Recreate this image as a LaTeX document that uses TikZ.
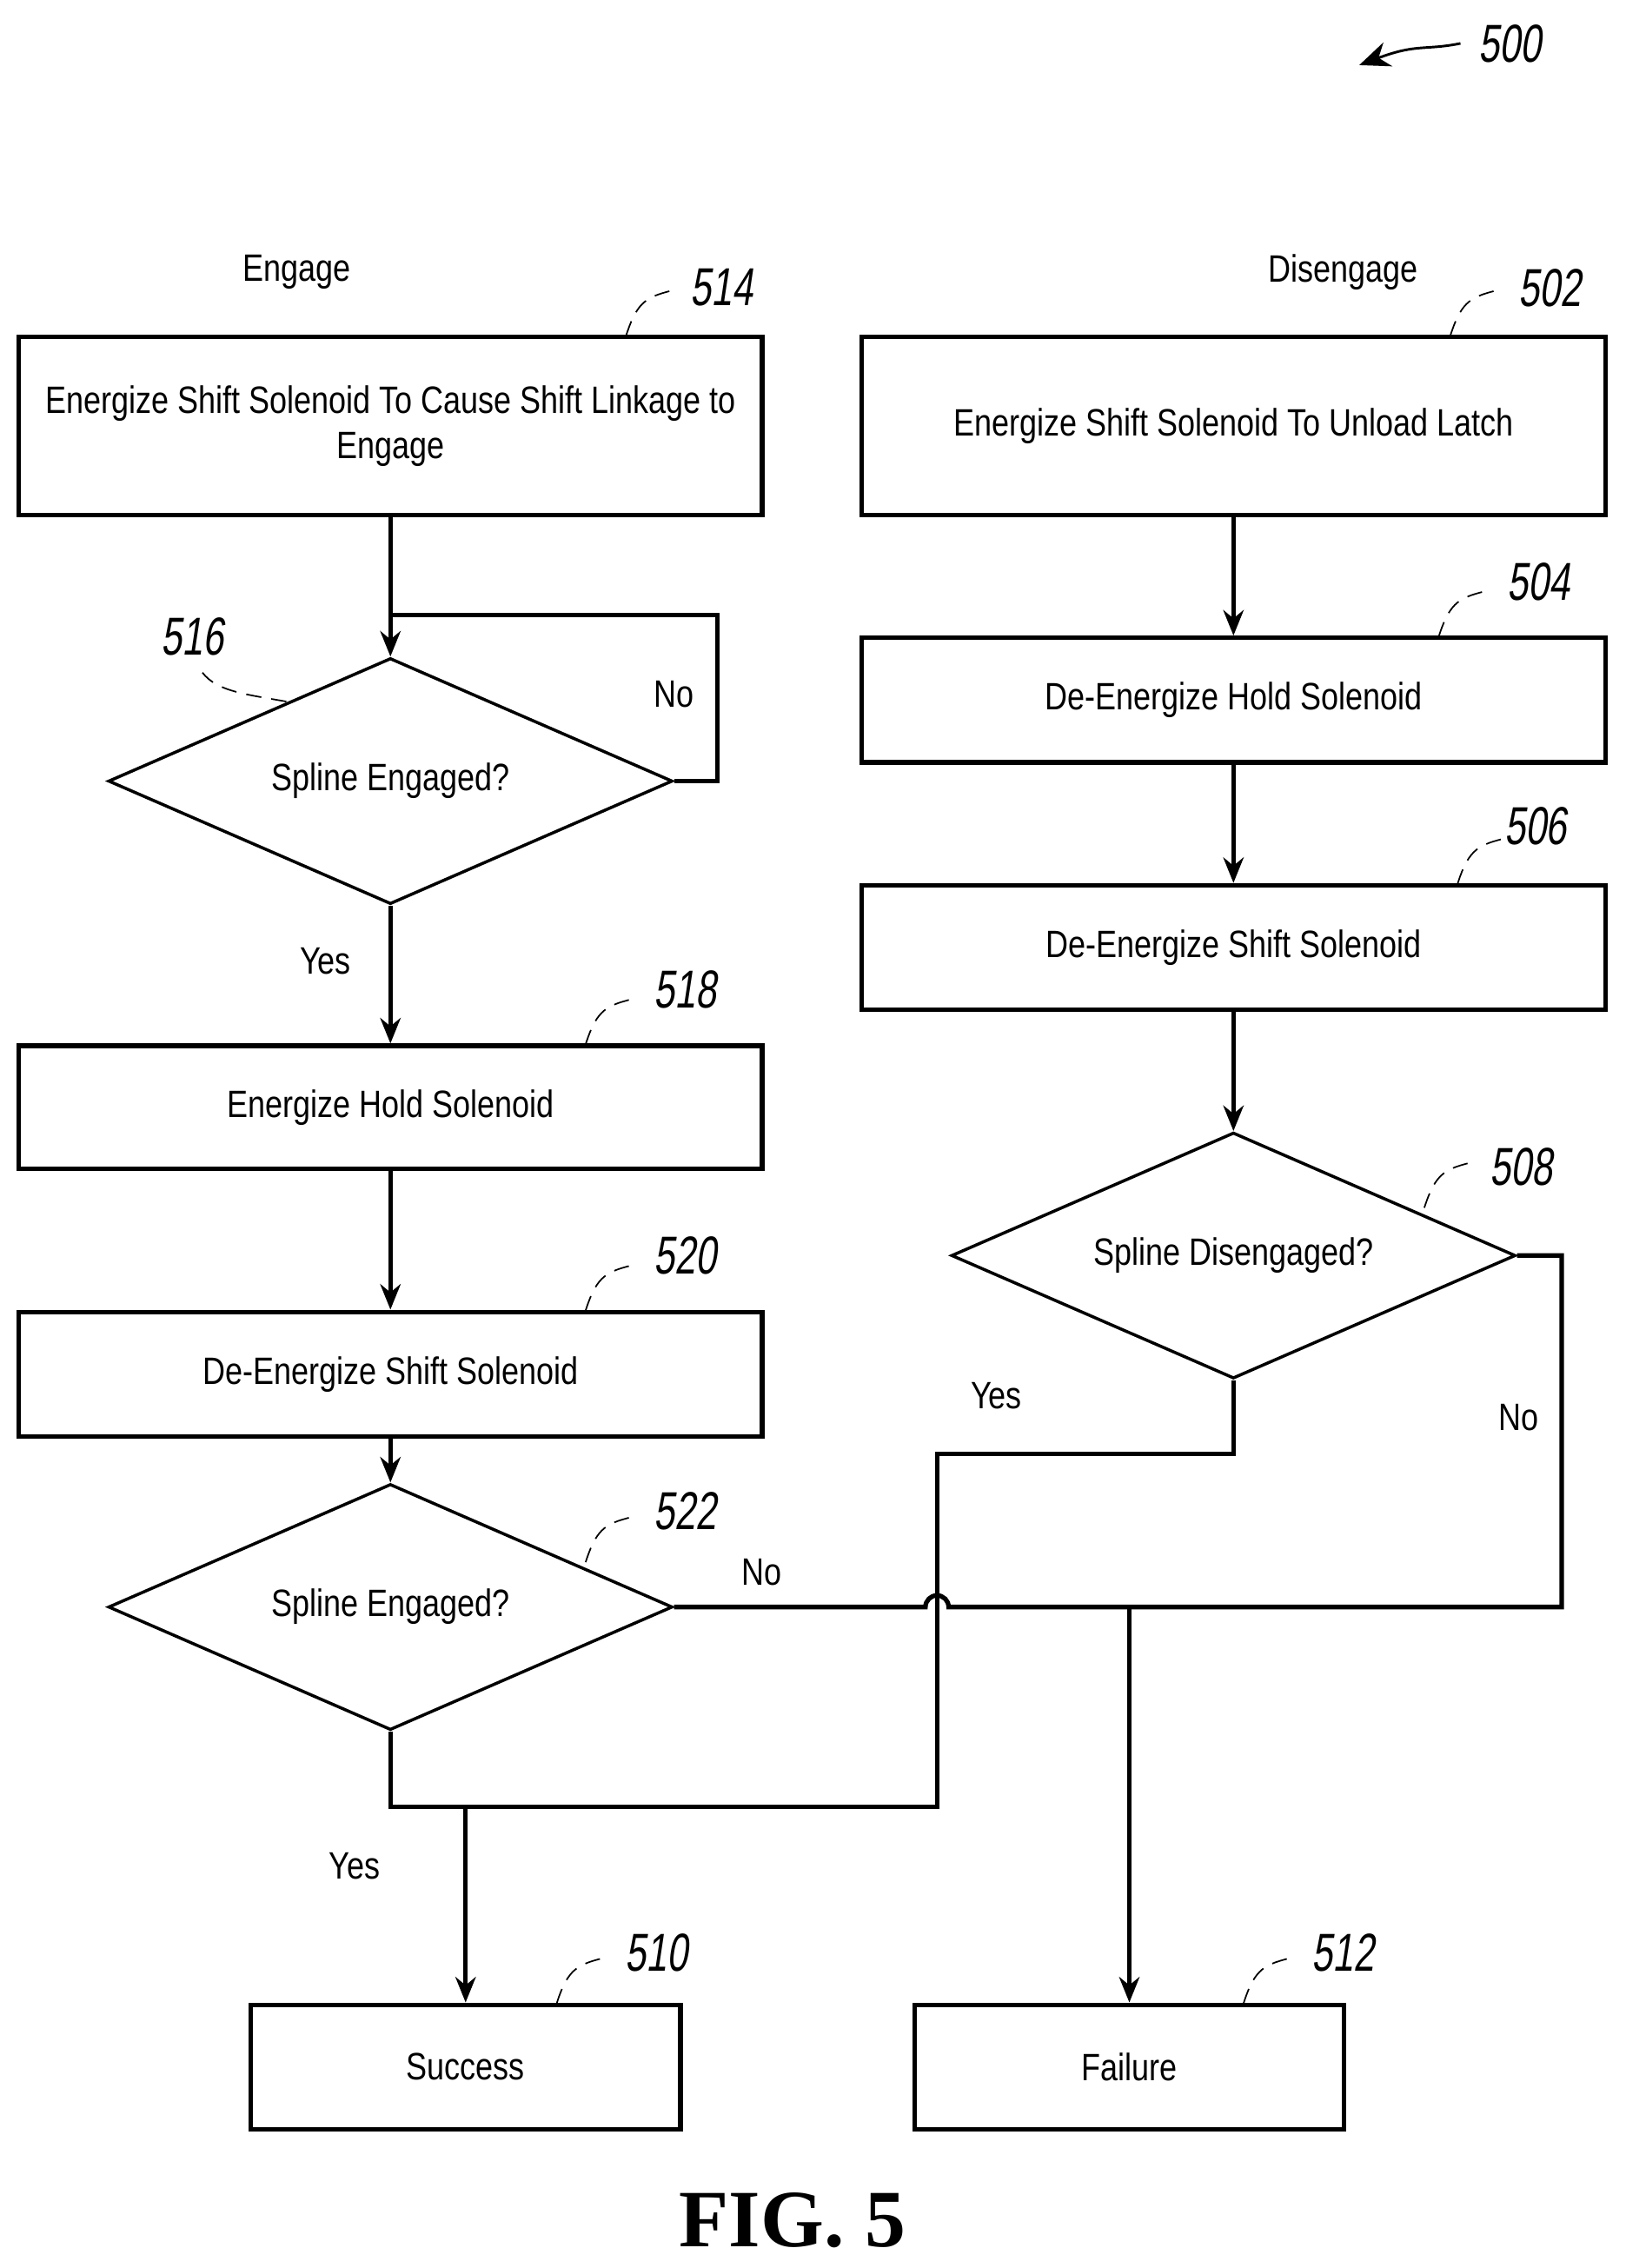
\documentclass[tikz,border=0pt]{standalone}
\usepackage{fontspec}
\setmainfont[FakeStretch=0.82]{Liberation Sans}
\newfontfamily\numfont[FakeStretch=0.7,FakeSlant=0.15]{Liberation Sans}
\usetikzlibrary{shapes.geometric,arrows.meta}
\tikzset{
  box/.style={draw,line width=0.9pt,minimum width=5.14cm,inner sep=2pt,align=center,font=\fontsize{7.5}{9}\selectfont},
  dec/.style={draw,diamond,aspect=2.3,line width=0.6pt,minimum width=3.9cm,minimum height=1.7cm,inner sep=0pt,font=\fontsize{7.5}{9}\selectfont},
  line/.style={line width=0.9pt},
  arr/.style={line,-{Stealth[length=5pt,width=4pt]}},
  lbl/.style={font=\fontsize{7.5}{9}\selectfont},
  num/.style={font=\numfont\fontsize{10.5}{12}\selectfont},
}
\newcommand{\callout}[3]{%
  \draw[line width=0.3pt,densely dashed] (#1) .. controls +(8,-25) and +(-20,5) .. ++(35,-32);
  \node[num,anchor=west] at ($(#1)+(#2)$) {#3};}
\usetikzlibrary{calc}
\begin{document}
\begin{tikzpicture}[x=0.01cm,y=-0.01cm]
\useasboundingbox (0,0) rectangle (1124,1568);
% left column
\node[box,minimum height=1.23cm] (b514) at (270,294.5) {Energize Shift Solenoid To Cause Shift Linkage to\\Engage};
\node[dec] (d516) at (270,540) {Spline Engaged?};
\node[box,minimum height=0.85cm] (b518) at (270,765.5) {Energize Hold Solenoid};
\node[box,minimum height=0.86cm] (b520) at (270,950) {De-Energize Shift Solenoid};
\node[dec] (d522) at (270,1111) {Spline Engaged?};
% right column
\node[box,minimum height=1.23cm] (b502) at (853,294.5) {Energize Shift Solenoid To Unload Latch};
\node[box,minimum height=0.86cm] (b504) at (853,484) {De-Energize Hold Solenoid};
\node[box,minimum height=0.86cm] (b506) at (853,655) {De-Energize Shift Solenoid};
\node[dec] (d508) at (853,868) {Spline Disengaged?};
% results
\node[box,minimum width=2.97cm,minimum height=0.86cm] (b510) at (322,1429) {Success};
\node[box,minimum width=2.97cm,minimum height=0.86cm] (b512) at (781,1429) {Failure};
% headings
\node[lbl] (engage) at (205,188) {Engage};
\node[lbl] (diseng) at (929,188) {Disengage};
% connectors
\draw[arr] (b514) -- (d516);
\coordinate (loopA) at (496,540);
\draw[line] (d516.east) -- (loopA) -- (496,425) -- (270,425);
\draw[arr] (d516) -- node[lbl,pos=0.4,left=4pt]{Yes} (b518);
\draw[arr] (b518) -- (b520);
\draw[arr] (b520) -- (d522);
\draw[arr] (b502) -- (b504);
\draw[arr] (b504) -- (b506);
\draw[arr] (b506) -- (d508);
\coordinate (join) at (322,1249);
\draw[line] (d522.south) -- (270,1249) -- (648,1249) -- (648,1005) -- (853,1005) -- (d508.south);
\draw[arr] (join) -- (b510);
\coordinate (fjoin) at (781,1111);
\draw[line] (d522.east) -- (640,1111) arc[start angle=180,end angle=0,radius=0.08cm] -- (1080,1111) -- (1080,868) -- (d508.east);
\draw[arr] (fjoin) -- (b512);
% branch labels
\node[lbl] at (466,480) {No};
\node[lbl] at (245,1290) {Yes};
\node[lbl] at (527,1087) {No};
\node[lbl] at (689,965) {Yes};
\node[lbl] at (1050,980) {No};
% reference numerals
\callout{433,232}{32,-33}{514}
\callout{1003,232}{35,-33}{502}
\callout{995,440}{35,-38}{504}
\callout{1008,611}{20,-40}{506}
\callout{405,722}{35,-38}{518}
\callout{405,906}{35,-38}{520}
\callout{405,1080}{35,-35}{522}
\callout{985,835}{33,-28}{508}
\callout{385,1385}{35,-35}{510}
\callout{860,1385}{35,-35}{512}
\draw[line width=0.3pt,densely dashed] (198,485) .. controls (170,480) and (150,478) .. (140,465);
\node[num] at (133,440) {516};
% figure reference
\node[num,anchor=west] (n500) at (1010,30) {500};
\draw[line width=0.5pt,-{Stealth[length=6pt,width=5pt]}] (n500.west) .. controls (985,35) and (980,30) .. (940,45);
\node[font=\bfseries\fontsize{16}{18}\selectfont] (fig) at (548,1535) {\fontspec{Liberation Serif}FIG. 5};
\end{tikzpicture}
\end{document}
